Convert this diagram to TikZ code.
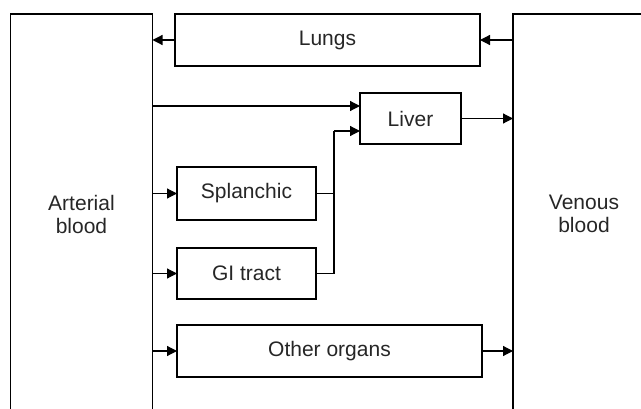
\documentclass[tikz,border=0pt]{standalone}
\usepackage{fontspec}
\setmainfont{Liberation Sans}
\usetikzlibrary{arrows.meta}

\begin{document}
\begin{tikzpicture}[x=1pt, y=-1pt,
    every node/.style={font=\fontsize{21}{23}\selectfont, text=black!85},
    organ/.style={draw, line width=1.2pt, inner sep=0pt, outer sep=0pt},
    pool/.style={organ, minimum width=142pt, minimum height=400pt, align=center},
    arr/.style={line width=1.2pt, -{Triangle[length=10pt,width=10pt]}}]
\useasboundingbox (0,0) rectangle (641,409);
\clip (0,0) rectangle (641,409);
\node[pool] (arterial) at (81.5, 214){Arterial\\blood};
\node[pool] (venous) at (584, 214){Venous\\blood};
\node[organ, minimum width=305pt, minimum height=52pt] (lungs) at (327.5, 40){Lungs};
\node[organ, minimum width=101pt, minimum height=51pt] (liver) at (410.5, 118.5){Liver};
\node[organ, minimum width=139pt, minimum height=53pt] (splanch) at (246.5, 193.5){Splanchic};
\node[organ, minimum width=139pt, minimum height=51pt] (gitract) at (246.5, 273.5){GI tract};
\node[organ, minimum width=305pt, minimum height=52pt] (other) at (329.5, 351){Other organs};
\coordinate (liverin) at ([yshift=12.5pt]liver.west);
\coordinate (liverin2) at ([yshift=-12.5pt]liver.west);
\coordinate (join) at (334, 131);
\draw[arr] (venous.west |- lungs.east) -- (lungs.east);
\draw[arr] (lungs.west) -- (arterial.east |- lungs.west);
\draw[arr] (arterial.east |- liverin) -- (liverin);
\draw[arr] (arterial.east |- splanch.west) -- (splanch.west);
\draw[arr] (arterial.east |- gitract.west) -- (gitract.west);
\draw[arr] (arterial.east |- other.west) -- (other.west);
\draw[line width=1.2pt] (splanch.east) -| (join);
\draw[line width=1.2pt] (gitract.east) -| (join);
\draw[arr] (join) -- (liverin2);
\draw[arr] (liver.east) -- (venous.west |- liver.east);
\draw[arr] (other.east) -- (venous.west |- other.east);
\end{tikzpicture}
\end{document}
